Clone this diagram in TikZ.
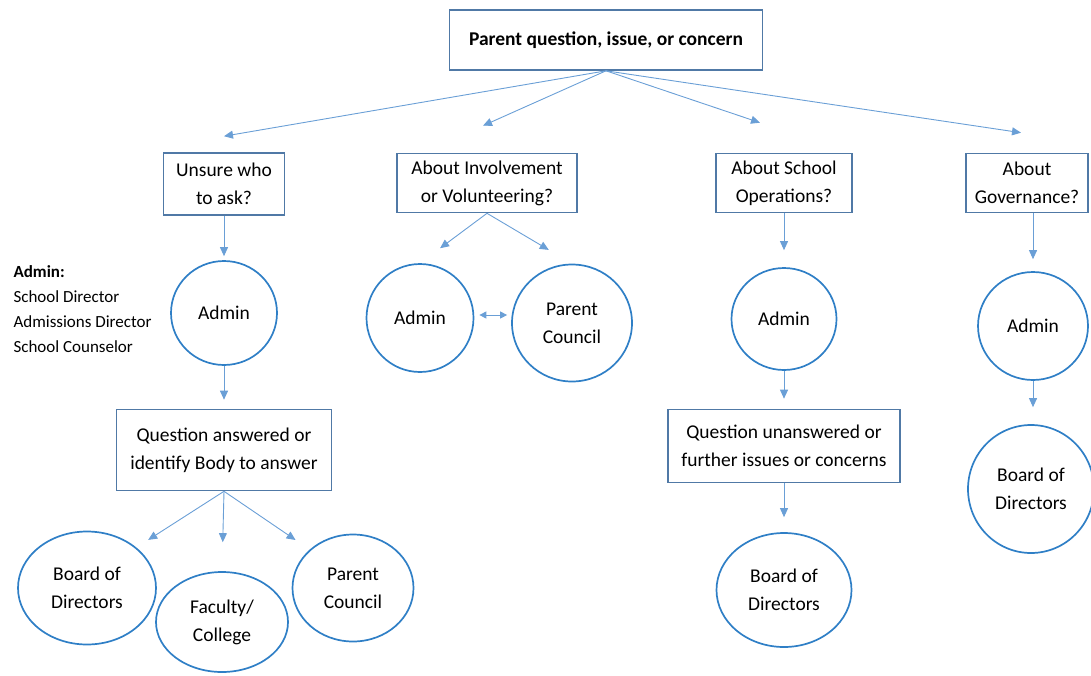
\documentclass[tikz,border=0pt]{standalone}
\usepackage{fontspec}
\setmainfont{Carlito}
\usetikzlibrary{shapes,arrows.meta,positioning}
\definecolor{boxline}{HTML}{5079A6}
\definecolor{ovalline}{HTML}{2F7FC6}
\definecolor{arrowline}{HTML}{6A9FD6}

\begin{document}
\begin{tikzpicture}[
    x=1pt, y=-1pt,
    every node/.style={
        align=center,
        font=\fontsize{19.5}{28}\selectfont
    },
    box/.style={draw=boxline, line width=1.6pt, inner sep=0pt},
    oval/.style={ellipse, draw=ovalline, line width=1.7pt, inner sep=0pt},
    link/.style={draw=arrowline, line width=0.9pt,
        -{Triangle[length=9pt,width=8pt]}}
]
\useasboundingbox (0,0) rectangle (1091,675);

% top
\node[box, minimum width=313, minimum height=60,
    font=\bfseries\fontsize{19.5}{28}\selectfont] (top) at (606,40)
    {Parent question, issue, or concern};

% questions
\node[box, minimum width=121, minimum height=62] (unsure) at (224,184) {Unsure who\\to ask?};
\node[box, minimum width=180, minimum height=59] (involve) at (487,183) {About Involvement\\or Volunteering?};
\node[box, minimum width=136, minimum height=59] (ops) at (784,183) {About School\\Operations?};
\node[box, minimum width=122, minimum height=59] (gov) at (1027,183) {About\\Governance?};

% arrow ends above the boxes
\coordinate (unsure-in) at ([yshift=16pt]unsure.north);
\coordinate (involve-in) at ([xshift=-4pt,yshift=27pt]involve.north);
\coordinate (ops-in) at ([xshift=-24pt,yshift=30pt]ops.north);
\coordinate (gov-in) at ([xshift=-6pt,yshift=20pt]gov.north);

\draw[link] (top.south) -- (unsure-in);
\draw[link] (top.south) -- (involve-in);
\draw[link] (top.south) -- (ops-in);
\draw[link] (top.south) -- (gov-in);

% unsure who to ask
\node[anchor=north west, align=left, font=\fontsize{17}{25}\selectfont] (adminnote) at (10,262)
    {\textbf{Admin:}\\School Director\\Admissions Director\\School Counselor};
\node[oval, minimum width=106, minimum height=104] (admin1) at (224,313) {Admin};
\node[box, minimum width=215, minimum height=81] (answer) at (224,450) {Question answered or\\identify Body to answer};
\node[oval, minimum width=138, minimum height=113] (board1) at (87,588) {Board of\\Directors};
\node[oval, minimum width=132, minimum height=100] (faculty) at (222,622) {Faculty/\\College};
\node[oval, minimum width=121, minimum height=107] (council1) at (353,588) {Parent\\Council};

\draw[link, shorten >=4] (unsure.south) -- (admin1.north);
\draw[link, shorten >=9] (admin1.south) -- (answer.north);
\draw[link, shorten >=14] (answer.south) -- (board1.north east);
\draw[link, shorten >=29] (answer.south) -- (faculty.north);
\draw[link, shorten >=17] (answer.south) -- (council1.north west);

% involvement
\node[oval, minimum width=107, minimum height=108] (admin2) at (420,318) {Admin};
\node[oval, minimum width=120, minimum height=117] (council2) at (572,323) {Parent\\Council};

\draw[link, shorten >=25] (involve.south) -- (admin2.north);
\draw[link, shorten >=27] (involve.south) -- (council2.north);
\draw[link, {Triangle[length=7pt,width=7pt]}-{Triangle[length=7pt,width=7pt]},
    shorten <=5, shorten >=4] ([yshift=3pt]admin2.east) -- ([yshift=3pt]admin2.east -| council2.west);

% school operations
\node[oval, minimum width=105, minimum height=102] (admin3) at (784,319) {Admin};
\node[box, minimum width=232, minimum height=73] (unanswered) at (784,446) {Question unanswered or\\further issues or concerns};
\node[oval, minimum width=135, minimum height=114] (board3) at (784,590) {Board of\\Directors};

\draw[link, shorten >=17] (ops.south) -- (admin3.north);
\draw[link, shorten >=10] (admin3.south) -- (unanswered.north);
\draw[link, shorten >=15] (unanswered.south) -- (board3.north);

% governance
\node[oval, minimum width=110, minimum height=108] (admin4) at (1033,326) {Admin};
\node[oval, minimum width=126, minimum height=128] (board4) at (1031,489) {Board of\\Directors};

\draw[link, shorten >=12] (admin4.north |- gov.south) -- (admin4.north);
\draw[link, shorten >=17] (admin4.south) -- (admin4.south |- board4.north);
\end{tikzpicture}
\end{document}
